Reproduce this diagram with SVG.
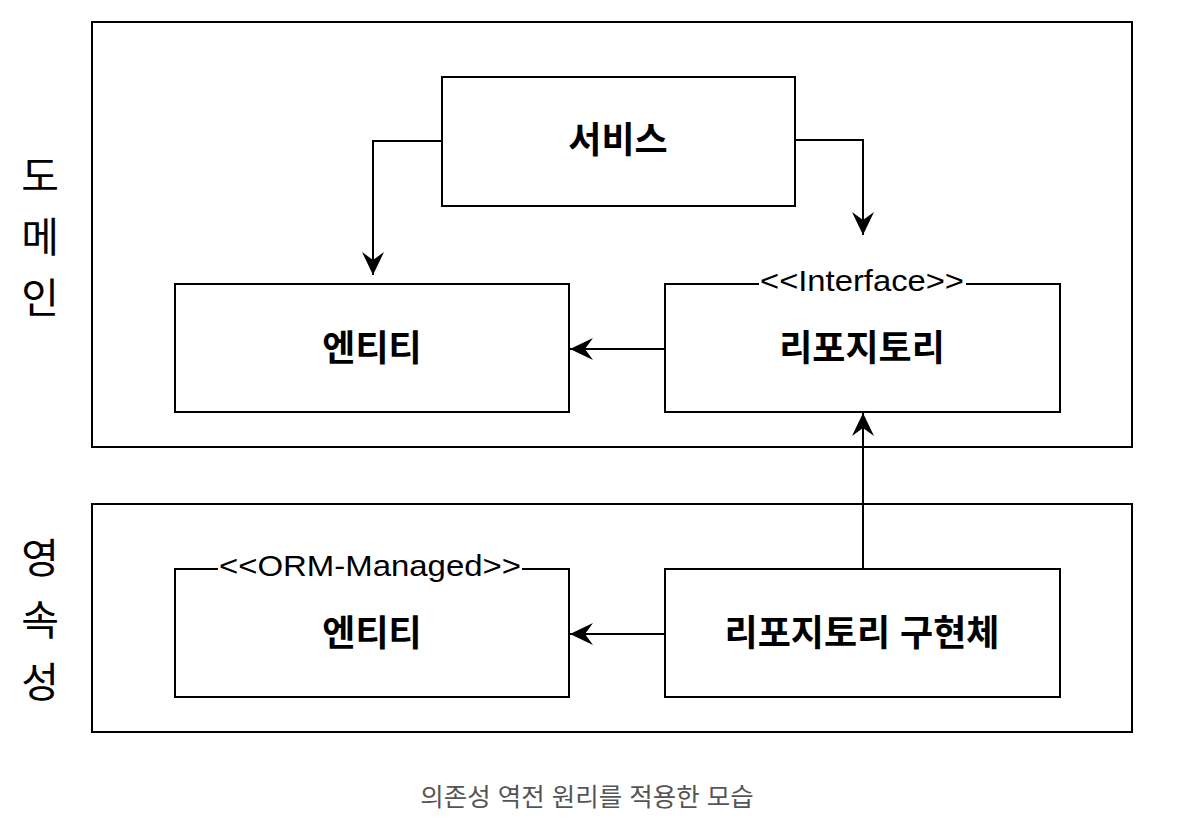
<svg xmlns="http://www.w3.org/2000/svg" width="1196" height="824" viewBox="0 0 1196 824">
<defs>
<marker id="arr" markerUnits="userSpaceOnUse" markerWidth="26" markerHeight="26" viewBox="0 0 26 26" refX="23" refY="12" orient="auto">
<path d="M0,1 L23,12 L0,23 L8,12 Z" fill="#000"/>
</marker>
</defs>
<style>
.box{fill:#fff;stroke:#000;stroke-width:2}
.frame{fill:none;stroke:#000;stroke-width:2}
.lbl{font-family:"Liberation Sans","Noto Sans CJK KR",sans-serif;font-weight:bold;font-size:36px;text-anchor:middle;fill:#000}
.side{font-family:"Liberation Sans","Noto Sans CJK KR",sans-serif;font-size:41px;text-anchor:middle;fill:#000}
.st{font-family:"Liberation Sans","Noto Sans CJK KR",sans-serif;font-size:30px;text-anchor:middle;fill:#000}
.cap{font-family:"Liberation Sans","Noto Sans CJK KR",sans-serif;font-size:25.5px;text-anchor:middle;fill:#555}
.conn{fill:none;stroke:#000;stroke-width:2}
</style>
<rect width="1196" height="824" fill="#fff"/>
<g id="domain-layer">
<rect class="frame" x="92" y="22" width="1040" height="425"/>
<text class="side" x="40" y="191">도</text>
<text class="side" x="40" y="252">메</text>
<text class="side" x="40" y="313">인</text>
</g>
<g id="persistence-layer">
<rect class="frame" x="92" y="504" width="1040" height="228"/>
<text class="side" x="40" y="573">영</text>
<text class="side" x="40" y="635">속</text>
<text class="side" x="40" y="697">성</text>
</g>
<g id="service">
<rect class="box" x="442" y="77" width="353" height="129"/>
<text class="lbl" x="618" y="153">서비스</text>
</g>
<g id="domain-entity">
<rect class="box" x="175" y="284" width="394" height="128"/>
<text class="lbl" x="372" y="361">엔티티</text>
</g>
<g id="repository">
<rect class="box" x="665" y="284" width="395" height="128"/>
<rect x="759" y="268" width="207" height="26" fill="#fff"/>
<text class="st" x="862" y="291" textLength="204" lengthAdjust="spacingAndGlyphs">&lt;&lt;Interface&gt;&gt;</text>
<text class="lbl" x="862" y="361">리포지토리</text>
</g>
<g id="orm-entity">
<rect class="box" x="175" y="569" width="394" height="128"/>
<rect x="218" y="553" width="304" height="26" fill="#fff"/>
<text class="st" x="370" y="576" textLength="302" lengthAdjust="spacingAndGlyphs">&lt;&lt;ORM-Managed&gt;&gt;</text>
<text class="lbl" x="372" y="646">엔티티</text>
</g>
<g id="repository-impl">
<rect class="box" x="665" y="569" width="395" height="128"/>
<text class="lbl" x="862" y="646">리포지토리 구현체</text>
</g>
<g id="connectors">
<path class="conn" d="M442,141 L373,141 L373,275" marker-end="url(#arr)"/>
<path class="conn" d="M795,140 L863,140 L863,235" marker-end="url(#arr)"/>
<path class="conn" d="M665,349 L570,349" marker-end="url(#arr)"/>
<path class="conn" d="M863,569 L863,413" marker-end="url(#arr)"/>
<path class="conn" d="M665,634 L570,634" marker-end="url(#arr)"/>
</g>
<text class="cap" x="587" y="806">의존성 역전 원리를 적용한 모습</text>
</svg>
